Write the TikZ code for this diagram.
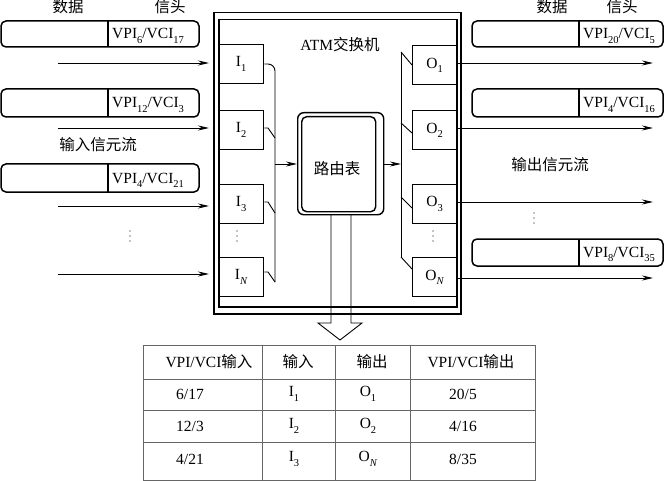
\documentclass[tikz,border=0pt]{standalone}
\usepackage{fontspec}
\setmainfont{Liberation Serif}
\newfontfamily\cjk{Noto Sans CJK SC}
\usetikzlibrary{arrows.meta}
\newcommand\zh[1]{{\cjk #1}}
\newcommand\lo[1]{\raisebox{-0.3em}{\fontsize{10.5}{11}\selectfont #1}}
\begin{document}
\begin{tikzpicture}[x=1pt,y=-1pt,
  font=\fontsize{15.5}{17}\selectfont,
  cell/.style={draw, line width=1.5pt, rounded corners=5pt},
  frame/.style={draw, line width=1.5pt},
  iobox/.style={draw, line width=1.4pt, minimum width=45pt, minimum height=39pt, inner sep=0pt, anchor=north west},
  obox/.style={draw, line width=1.4pt, minimum width=44pt, minimum height=39pt, inner sep=0pt, anchor=north west},
  wire/.style={line width=0.9pt},
  arr/.style={-{Stealth[length=11pt,width=5pt]}, line width=0.9pt},
  tab/.style={draw=black!60, line width=0.9pt},
  lbl/.style={inner sep=0pt},
  vdot/.style={fill, circle, inner sep=0pt, minimum size=1.3pt}]
\useasboundingbox (0,0) rectangle (671,481);

% ---------- input cells ----------
\draw[cell] (1,21) rectangle (199,47);  \draw[line width=1.4pt] (108,21) -- (108,47);
\draw[cell] (1,89) rectangle (199,117); \draw[line width=1.4pt] (108,89) -- (108,117);
\draw[cell] (1,164) rectangle (199,192); \draw[line width=1.4pt] (108,164) -- (108,192);
\node[lbl, anchor=base west] (h1) at (112,39) {VPI\lo{6}/VCI\lo{17}};
\node[lbl, anchor=base west] (h2) at (112,108) {VPI\lo{12}/VCI\lo{3}};
\node[lbl, anchor=base west] (h3) at (112,183) {VPI\lo{4}/VCI\lo{21}};
\node[lbl] (dA) at (68,7) {\zh{数据}};
\node[lbl] (xA) at (170,7) {\zh{信头}};
\node[lbl] (inflow) at (98,145) {\zh{输入信元流}};
\foreach \yy in {231,236,241} \node[vdot] at (130,\yy) {};

% input arrows
\coordinate (a1) at (58,63);  \coordinate (b1) at (209,63);
\coordinate (a2) at (58,128); \coordinate (b2) at (209,128);
\coordinate (a3) at (58,206); \coordinate (b3) at (209,206);
\coordinate (a4) at (58,274); \coordinate (b4) at (209,274);
\draw[arr] (a1) -- (b1);
\draw[arr] (a2) -- (b2);
\draw[arr] (a3) -- (b3);
\draw[arr] (a4) -- (b4);

% ---------- output cells ----------
\draw[cell] (472,21) rectangle (663,47);  \draw[line width=1.4pt] (579,21) -- (579,47);
\draw[cell] (472,89) rectangle (663,117); \draw[line width=1.4pt] (579,89) -- (579,117);
\draw[cell] (472,239) rectangle (663,266); \draw[line width=1.4pt] (579,239) -- (579,266);
\node[lbl, anchor=base west] (g1) at (583,39) {VPI\lo{20}/VCI\lo{5}};
\node[lbl, anchor=base west] (g2) at (583,108) {VPI\lo{4}/VCI\lo{16}};
\node[lbl, anchor=base west] (g3) at (583,257) {VPI\lo{8}/VCI\lo{35}};
\node[lbl] (dB) at (552,7) {\zh{数据}};
\node[lbl] (xB) at (622,7) {\zh{信头}};
\node[lbl] (outflow) at (550,165) {\zh{输出信元流}};
\foreach \yy in {213,218,223} \node[vdot] at (534,\yy) {};

% ---------- switch ----------
\node[frame, minimum width=247pt, minimum height=301pt, anchor=north west, inner sep=0pt] (sw) at (213,12) {};
\node[frame, minimum width=238pt, minimum height=287pt, anchor=north west, inner sep=0pt] (swi) at (218,19) {};
\node[lbl] (atm) at (340,45) {ATM\zh{交换机}};

\node[iobox] (I1) at (218,44) {I\lo{1}};
\node[iobox] (I2) at (218,110) {I\lo{2}};
\node[iobox] (I3) at (218,184) {I\lo{3}};
\node[iobox] (IN) at (218,257) {I\lo{\textit{N}}};
\foreach \yy in {231,236,241} \node[vdot] at (237,\yy) {};

\node[obox] (O1) at (412,45) {O\lo{1}};
\node[obox] (O2) at (412,110) {O\lo{2}};
\node[obox] (O3) at (412,184) {O\lo{3}};
\node[obox] (ON) at (412,257) {O\lo{\textit{N}}};
\foreach \yy in {231,236,241} \node[vdot] at (433,\yy) {};

% routing table
\node[draw, line width=1.4pt, rounded corners=6pt, minimum width=86pt, minimum height=102pt, anchor=north west, inner sep=0pt] (rto) at (297,112) {};
\node[draw, line width=1.4pt, rounded corners=5pt, minimum width=74pt, minimum height=95pt, anchor=north west, inner sep=0pt] (rt) at (301,116) {};
\node[lbl] (rtl) at (337,169) {\zh{路由表}};

% input bus
\coordinate (ib0) at (275,282);
\draw[wire, rounded corners=7pt] (I1.east |- 0,64) -- (275,64) -- (ib0);
\draw[wire] (I2.east |- 0,128) -- (268,128) -- (275,138);
\draw[wire] (I3.east |- 0,202) -- (268,202) -- (275,213);
\draw[wire] (IN.east |- 0,272) -- (268,272) -- (ib0);
\coordinate (ib) at (275,164);
\draw[arr] (ib) -- (rto.west |- ib);

% output bus
\coordinate (ob0) at (401,52);
\coordinate (ob1) at (401,257);
\draw[wire] (ob0) -- (ob1);
\draw[wire] (ob0) -- (O1.west |- 0,65);
\draw[wire] (401,123) -- (O2.west |- 0,133);
\draw[wire] (401,197) -- (O3.west |- 0,208);
\draw[wire] (ob1) -- (ON.west |- 0,269);
\coordinate (ob) at (401,164);
\draw[arr] (rto.east |- ob) -- (ob);

% output arrows
\coordinate (e1) at (653,63);
\coordinate (e2) at (653,128);
\coordinate (e3) at (653,202);
\coordinate (e4) at (653,278);
\draw[arr] (O1.east |- e1) -- (e1);
\draw[arr] (O2.east |- e2) -- (e2);
\draw[arr] (O3.east |- e3) -- (e3);
\draw[arr] (ON.east |- e4) -- (e4);

% hollow down arrow
\draw[wire, line join=miter] (331,214) -- (331,323) -- (318,323) -- (340,340) -- (362,323) -- (351,323) -- (351,214);

% ---------- table ----------
\draw[tab] (143,345) rectangle (535,480);
\draw[tab] (143,379) -- (535,379);
\draw[tab] (143,410) -- (535,410);
\draw[tab] (143,442) -- (535,442);
\draw[tab] (262,345) -- (262,480);
\draw[tab] (335,345) -- (335,480);
\draw[tab] (410,345) -- (410,480);

\node[lbl] (t01) at (209,362) {VPI/VCI\zh{输入}};
\node[lbl] (t02) at (298,362) {\zh{输入}};
\node[lbl] (t03) at (372,362) {\zh{输出}};
\node[lbl] (t04) at (471,362) {VPI/VCI\zh{输出}};

\node[lbl] (t11) at (190,394) {6/17};
\node[lbl] (t12) at (294,394) {I\lo{1}};
\node[lbl] (t13) at (368,394) {O\lo{1}};
\node[lbl] (t14) at (463,394) {20/5};

\node[lbl] (t21) at (190,426) {12/3};
\node[lbl] (t22) at (294,426) {I\lo{2}};
\node[lbl] (t23) at (368,426) {O\lo{2}};
\node[lbl] (t24) at (463,426) {4/16};

\node[lbl] (t31) at (190,459) {4/21};
\node[lbl] (t32) at (294,459) {I\lo{3}};
\node[lbl] (t33) at (368,459) {O\lo{\textit{N}}};
\node[lbl] (t34) at (463,459) {8/35};
\end{tikzpicture}
\end{document}
